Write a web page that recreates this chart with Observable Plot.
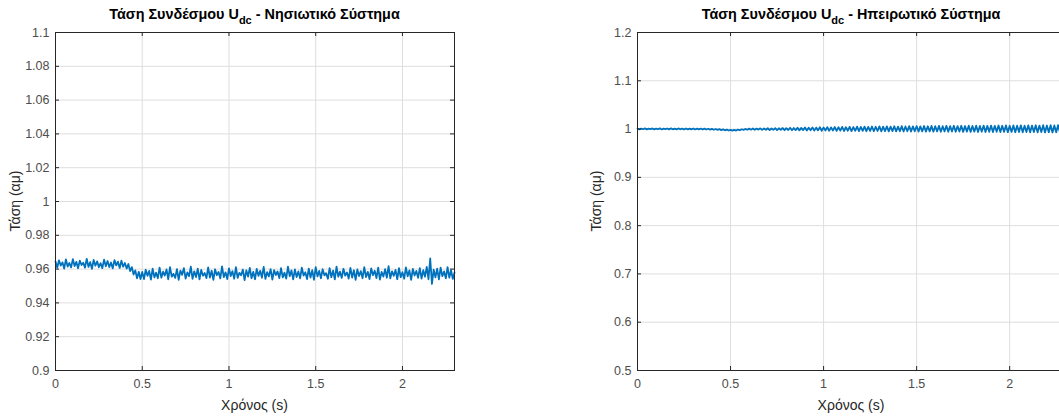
<!DOCTYPE html>
<html><head><meta charset="utf-8">
<script src="https://cdn.jsdelivr.net/npm/d3@7"></script>
<script src="https://cdn.jsdelivr.net/npm/@observablehq/plot@0.6"></script>
<style>
html,body{margin:0;padding:0;background:#fff;overflow:hidden;width:1059px;height:417px}
#root{position:relative;width:1059px;height:417px;font-family:"Liberation Sans",Arial,sans-serif;overflow:hidden}
.panel{position:absolute;top:0}
.title{position:absolute;top:6px;font-weight:bold;font-size:14.4px;color:#000;white-space:nowrap;transform:translateX(-50%)}
.title sub{font-size:11px;vertical-align:-5px;line-height:0}
.xlab{position:absolute;top:397px;font-size:14px;color:#262626;white-space:nowrap;transform:translateX(-50%)}
.ylab{position:absolute;font-size:14px;color:#262626;white-space:nowrap;transform:translate(-50%,-50%) rotate(-90deg)}
</style></head>
<body><div id="root"></div>
<script>
// ---- data ----
const sampleStep = 0.01; // s, sampling interval of the traces
const xTicks = [0, 0.5, 1, 1.5, 2];
const xDomain = [0, 2.3];

const leftTitle = ["Τάση Συνδέσμου U", "dc", " - Νησιωτικό Σύστημα"];
const rightTitle = ["Τάση Συνδέσμου U", "dc", " - Ηπειρωτικό Σύστημα"];
const xLabel = "Χρόνος (s)";
const yLabel = "Τάση (αμ)";

const leftYDomain = [0.9, 1.1];
const leftYTicks = [0.9, 0.92, 0.94, 0.96, 0.98, 1, 1.02, 1.04, 1.06, 1.08, 1.1];
const rightYDomain = [0.5, 1.2];
const rightYTicks = [0.5, 0.6, 0.7, 0.8, 0.9, 1, 1.1, 1.2];

const islandVdc = [
0.9645,0.9608,0.9652,0.9621,0.9640,0.9603,0.9657,0.9615,0.9636,0.9610,
0.9659,0.9618,0.9643,0.9605,0.9650,0.9624,0.9638,0.9609,0.9661,0.9613,
0.9641,0.9602,0.9654,0.9620,0.9646,0.9611,0.9635,0.9606,0.9656,0.9617,
0.9648,0.9612,0.9639,0.9604,0.9653,0.9622,0.9644,0.9607,0.9650,0.9614,
0.9636,0.9603,0.9630,0.9588,0.9612,0.9568,0.9592,0.9545,0.9584,0.9541,
0.9583,0.9541,0.9596,0.9560,0.9589,0.9538,0.9602,0.9551,0.9579,0.9546,
0.9609,0.9549,0.9585,0.9562,0.9598,0.9540,0.9612,0.9555,0.9572,0.9548,
0.9600,0.9537,0.9591,0.9566,0.9606,0.9544,0.9580,0.9558,0.9614,0.9542,
0.9587,0.9553,0.9603,0.9539,0.9595,0.9561,0.9577,0.9547,0.9610,0.9550,
0.9590,0.9536,0.9599,0.9564,0.9583,0.9545,0.9616,0.9552,0.9581,0.9541,
0.9604,0.9559,0.9588,0.9543,0.9611,0.9548,0.9578,0.9563,0.9597,0.9535,
0.9593,0.9556,0.9607,0.9546,0.9584,0.9540,0.9601,0.9560,0.9590,0.9549,
0.9613,0.9542,0.9582,0.9557,0.9600,0.9538,0.9594,0.9565,0.9586,0.9547,
0.9605,0.9551,0.9579,0.9544,0.9615,0.9558,0.9592,0.9539,0.9598,0.9553,
0.9586,0.9545,0.9608,0.9562,0.9581,0.9541,0.9603,0.9550,0.9594,0.9537,
0.9611,0.9557,0.9589,0.9546,0.9599,0.9563,0.9576,0.9543,0.9606,0.9552,
0.9591,0.9539,0.9614,0.9555,0.9585,0.9548,0.9602,0.9561,0.9580,0.9544,
0.9607,0.9550,0.9593,0.9536,0.9598,0.9559,0.9588,0.9546,0.9612,0.9553,
0.9584,0.9541,0.9604,0.9564,0.9590,0.9547,0.9609,0.9538,0.9583,0.9556,
0.9600,0.9549,0.9617,0.9545,0.9587,0.9560,0.9595,0.9540,0.9605,0.9552,
0.9582,0.9543,0.9610,0.9557,0.9592,0.9537,0.9601,0.9562,0.9589,0.9548,
0.9606,0.9544,0.9594,0.9555,0.9613,0.9540,0.9663,0.9512,0.9597,0.9551,
0.9603,0.9539,0.9608,0.9558,0.9586,0.9545,0.9611,0.9549,0.9593,0.9542,0.9580
];

const mainlandVdc = [
1.0012,0.9995,1.0010,0.9997,1.0014,0.9993,1.0009,0.9998,1.0013,0.9994,
1.0011,0.9996,1.0015,0.9992,1.0010,0.9997,1.0012,0.9993,1.0014,0.9995,
1.0009,0.9994,1.0013,0.9996,1.0011,0.9991,1.0012,0.9995,1.0010,0.9993,
1.0012,0.9992,1.0009,0.9994,1.0011,0.9990,1.0008,0.9991,1.0006,0.9988,
1.0004,0.9986,1.0001,0.9983,0.9998,0.9979,0.9993,0.9975,0.9988,0.9970,
0.9984,0.9968,0.9982,0.9970,0.9990,0.9976,0.9996,0.9983,1.0003,0.9985,
1.0009,0.9987,1.0012,0.9984,1.0010,0.9989,1.0015,0.9983,1.0011,0.9986,
1.0017,0.9980,1.0013,0.9985,1.0020,0.9979,1.0016,0.9984,1.0022,0.9977,
1.0019,0.9981,1.0026,0.9975,1.0021,0.9979,1.0028,0.9973,1.0024,0.9978,
1.0032,0.9970,1.0027,0.9976,1.0035,0.9968,1.0030,0.9973,1.0037,0.9966,
1.0033,0.9971,1.0040,0.9964,1.0035,0.9969,1.0042,0.9963,1.0038,0.9967,
1.0045,0.9960,1.0039,0.9966,1.0047,0.9959,1.0042,0.9964,1.0050,0.9958,
1.0044,0.9963,1.0051,0.9956,1.0046,0.9961,1.0053,0.9955,1.0048,0.9960,
1.0055,0.9954,1.0049,0.9959,1.0057,0.9952,1.0051,0.9957,1.0058,0.9951,
1.0052,0.9956,1.0060,0.9950,1.0054,0.9955,1.0061,0.9949,1.0055,0.9954,
1.0062,0.9948,1.0056,0.9953,1.0064,0.9947,1.0058,0.9952,1.0065,0.9946,
1.0059,0.9951,1.0066,0.9945,1.0060,0.9950,1.0067,0.9944,1.0061,0.9949,
1.0068,0.9943,1.0062,0.9948,1.0069,0.9942,1.0063,0.9947,1.0070,0.9941,
1.0064,0.9946,1.0071,0.9940,1.0065,0.9945,1.0072,0.9939,1.0066,0.9944,
1.0073,0.9938,1.0067,0.9943,1.0074,0.9937,1.0068,0.9942,1.0075,0.9936,
1.0069,0.9941,1.0076,0.9935,1.0070,0.9940,1.0077,0.9934,1.0071,0.9939,
1.0078,0.9933,1.0072,0.9938,1.0079,0.9932,1.0073,0.9937,1.0080,0.9931,
1.0074,0.9936,1.0081,0.9930,1.0075,0.9935,1.0082,0.9929,1.0076,0.9934,1.0010
];

// ---- drawing ----
const root = document.getElementById("root");
const fmt = d => String(+d.toFixed(2));

function makePanel({left, width, marginLeft, marginRight, values, yDomain, yTicks, title}) {
  const H = 417, mT = 32, mB = 47;
  const innerH = H - mT - mB;
  const innerW = width - marginLeft - marginRight;
  const data = values.map((v, i) => ({t: i * sampleStep, v}));
  const gridStyle = {stroke: "#dedede", strokeOpacity: 1, strokeWidth: 1};
  const tickStyle = {stroke: "#262626", strokeWidth: 1};
  const svg = Plot.plot({
    width, height: H, marginTop: mT, marginBottom: mB, marginLeft, marginRight,
    x: {domain: xDomain},
    y: {domain: yDomain},
    style: {fontFamily: '"Liberation Sans", Arial, sans-serif', fontSize: "12.5px", color: "#4d4d4d", background: "transparent", overflow: "visible"},
    marks: [
      Plot.gridX(xTicks, gridStyle),
      Plot.gridY(yTicks, gridStyle),
      Plot.line(data, {x: "t", y: "v", stroke: "#0072BD", strokeWidth: 1.8}),
      Plot.tickX(xTicks, {...tickStyle, insetTop: innerH - 4}),
      Plot.tickX(xTicks, {...tickStyle, insetBottom: innerH - 4}),
      Plot.tickY(yTicks, {...tickStyle, insetRight: innerW - 4}),
      Plot.tickY(yTicks, {...tickStyle, insetLeft: innerW - 4}),
      Plot.frame({stroke: "#262626", strokeWidth: 1}),
      Plot.axisX(xTicks, {tickSize: 0, tickPadding: 9, tickFormat: fmt, label: null, fill: "#4d4d4d"}),
      Plot.axisY(yTicks, {tickSize: 0, tickPadding: 6, tickFormat: fmt, label: null, fill: "#4d4d4d"})
    ]
  });
  svg.classList.add("panel");
  svg.style.left = left + "px";
  root.appendChild(svg);

  const cx = left + marginLeft + innerW / 2;
  const t = document.createElement("div");
  t.className = "title";
  t.style.left = cx + "px";
  t.append(title[0]);
  const sub = document.createElement("sub");
  sub.textContent = title[1];
  t.append(sub, title[2]);
  root.appendChild(t);

  const xl = document.createElement("div");
  xl.className = "xlab";
  xl.style.left = cx + "px";
  xl.textContent = xLabel;
  root.appendChild(xl);
}

makePanel({left: 0, width: 530, marginLeft: 55, marginRight: 76, values: islandVdc, yDomain: leftYDomain, yTicks: leftYTicks, title: leftTitle});
makePanel({left: 540, width: 530, marginLeft: 97, marginRight: 5, values: mainlandVdc, yDomain: rightYDomain, yTicks: rightYTicks, title: rightTitle});

for (const x of [15, 596]) {
  const yl = document.createElement("div");
  yl.className = "ylab";
  yl.style.left = x + "px";
  yl.style.top = "201px";
  yl.textContent = yLabel;
  root.appendChild(yl);
}
</script>
</body></html>
